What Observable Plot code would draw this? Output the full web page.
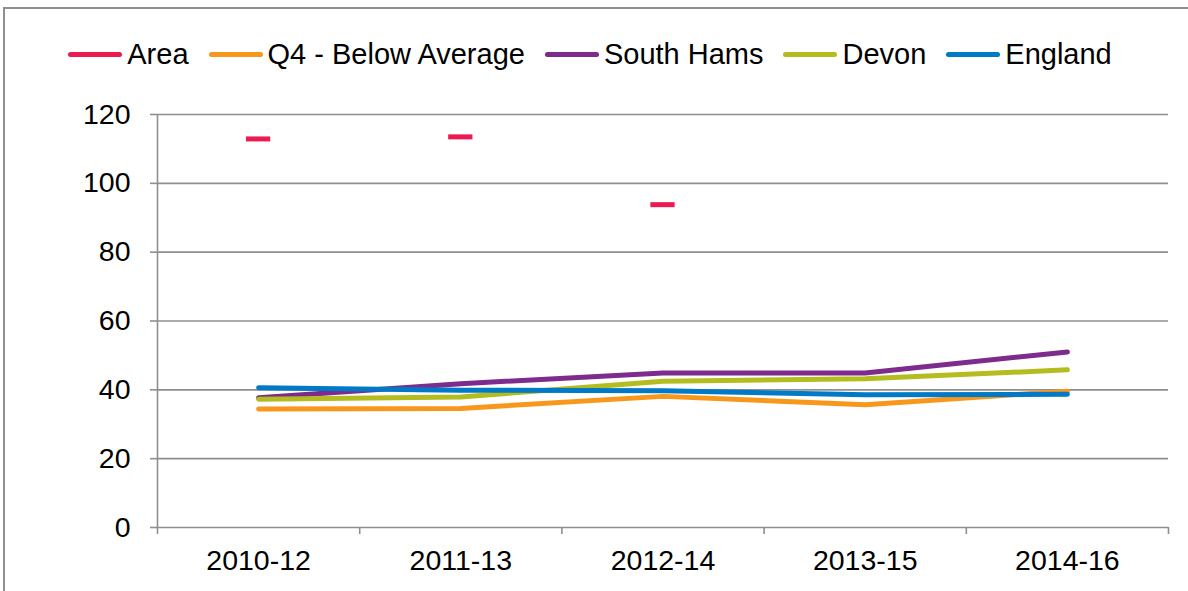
<!DOCTYPE html>
<html><head><meta charset="utf-8">
<script src="https://cdn.jsdelivr.net/npm/d3@7"></script>
<script src="https://cdn.jsdelivr.net/npm/@observablehq/plot@0.6"></script>
<style>
html,body{margin:0;padding:0;background:#fff;overflow:hidden;}
#wrap{position:relative;width:1188px;height:591px;font-family:"Liberation Sans",Arial,sans-serif;}
#chart{position:absolute;left:0;top:0;}
#frame{position:absolute;left:3px;top:7px;width:1240px;height:640px;border:2px solid #8f8f8f;box-sizing:border-box;pointer-events:none;}
#legend{position:absolute;left:0;top:37px;width:1180px;display:flex;justify-content:center;align-items:center;font-size:29px;line-height:34px;color:#000;white-space:nowrap;}
.item{display:flex;align-items:center;margin:0 10px;}
.sw{width:54px;height:5px;border-radius:3px;margin-right:5px;}
</style></head>
<body><div id="wrap"><div id="chart"></div><div id="frame"></div><div id="legend"></div></div>
<script>
const periods = ["2010-12", "2011-13", "2012-14", "2013-15", "2014-16"];
const areaValues = [112.9, 113.5, 93.8, null, null];
const q4Values = [34.4, 34.6, 38.1, 35.7, 39.6];
const southHamsValues = [37.7, 41.8, 44.9, 44.9, 51.0];
const devonValues = [37.3, 37.9, 42.5, 43.2, 45.8];
const englandValues = [40.6, 39.9, 39.7, 38.6, 38.7];
const seriesNames = ["Area", "Q4 - Below Average", "South Hams", "Devon", "England"];
const seriesColors = ["#EC1A52", "#F7981D", "#7D2B8C", "#B4BD1F", "#0079C6"];
const yTicks = [0, 20, 40, 60, 80, 100, 120];

const lineSeries = [q4Values, southHamsValues, devonValues, englandValues];
const lineRows = [];
lineSeries.forEach((vals, s) => vals.forEach((v, i) => lineRows.push({series: seriesNames[s + 1], i, value: v})));
const areaRows = areaValues.map((v, i) => ({i, value: v})).filter(d => d.value != null);

const grey = "#8f8f8f";
const chart = Plot.plot({
  width: 1188, height: 591,
  marginLeft: 157, marginRight: 20, marginTop: 114, marginBottom: 64,
  style: {fontFamily: "Liberation Sans, Arial, sans-serif", fontSize: "28.5px", color: "#000", background: "transparent"},
  x: {type: "linear", domain: [0, periods.length], axis: null},
  y: {domain: [0, 120], axis: null},
  color: {domain: seriesNames, range: seriesColors},
  marks: [
    Plot.gridY(yTicks, {stroke: grey, strokeOpacity: 1, strokeWidth: 1.6}),
    Plot.ruleX([0], {stroke: grey, strokeWidth: 1.6}),
    Plot.axisY(yTicks, {anchor: "left", tickSize: 7, tickPadding: 20, stroke: grey, strokeWidth: 1.6, label: null, fill: "#000"}),
    Plot.axisX(d3.range(periods.length + 1), {anchor: "bottom", tickSize: 7, tickFormat: () => "", stroke: grey, strokeWidth: 1.6, label: null}),
    Plot.axisX(periods.map((p, i) => i + 0.5), {anchor: "bottom", tickSize: 0, tickPadding: 22, tickFormat: v => periods[Math.floor(v)], label: null, fill: "#000"}),
    Plot.ruleY(areaRows, {y: "value", x1: d => d.i + 0.44, x2: d => d.i + 0.56, stroke: seriesColors[0], strokeWidth: 5}),
    Plot.line(lineRows, {x: d => d.i + 0.5, y: "value", z: "series", stroke: "series", strokeWidth: 5, strokeLinecap: "round", strokeLinejoin: "round"})
  ]
});
document.getElementById("chart").appendChild(chart);

const legend = document.getElementById("legend");
seriesNames.forEach((name, k) => {
  const it = document.createElement("div");
  it.className = "item";
  const sw = document.createElement("div");
  sw.className = "sw";
  sw.style.background = seriesColors[k];
  const tx = document.createElement("span");
  tx.textContent = name;
  it.appendChild(sw); it.appendChild(tx);
  legend.appendChild(it);
});
</script>
</body></html>
